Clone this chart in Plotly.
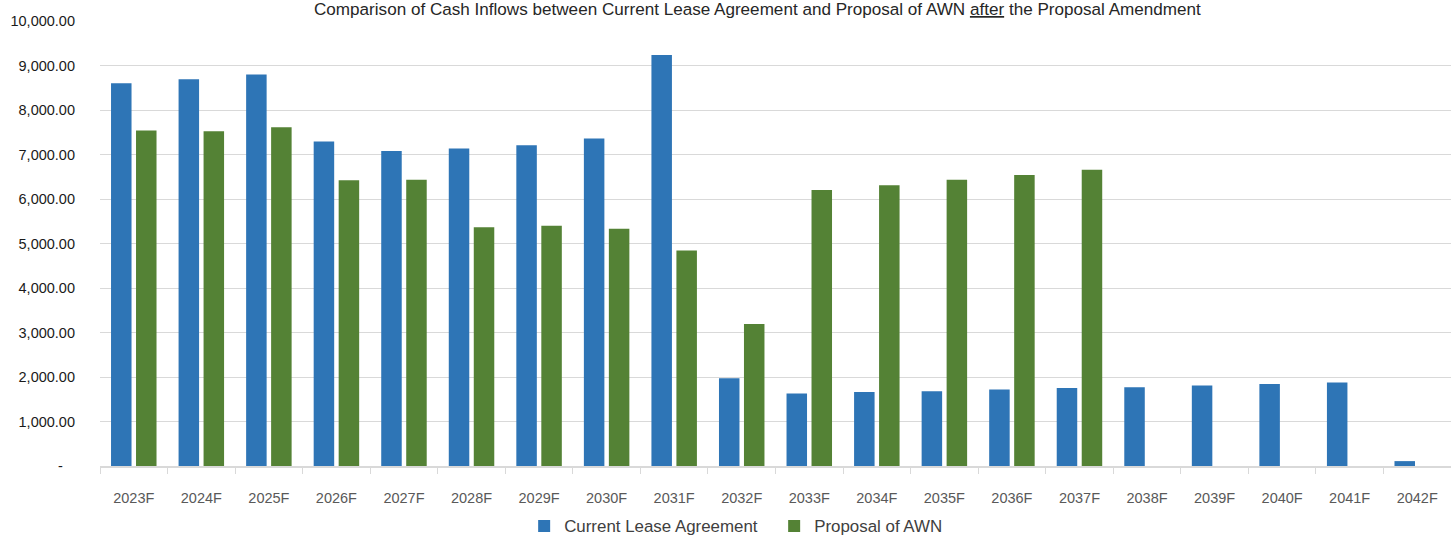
import plotly.graph_objects as go

years = ["2023F", "2024F", "2025F", "2026F", "2027F", "2028F", "2029F", "2030F",
         "2031F", "2032F", "2033F", "2034F", "2035F", "2036F", "2037F", "2038F",
         "2039F", "2040F", "2041F", "2042F"]

current_lease = [8600, 8690, 8800, 7290, 7080, 7135, 7210, 7360,
                 9235, 1970, 1630, 1665, 1680, 1720, 1755, 1770,
                 1810, 1840, 1875, 110]

proposal_awn = [7540, 7520, 7610, 6420, 6435, 5365, 5400, 5330,
                4840, 3190, 6205, 6310, 6435, 6540, 6660, None,
                None, None, None, None]

y_ticks = list(range(0, 10001, 1000))
y_tick_text = ["-\u00a0\u00a0\u00a0"] + [f"{v:,.2f}" for v in y_ticks[1:]]

FONT = "Liberation Sans, Arial, sans-serif"

fig = go.Figure()
fig.add_trace(go.Bar(name="Current Lease Agreement", x=years, y=current_lease,
                     marker=dict(color="#2E75B6", line=dict(width=0))))
fig.add_trace(go.Bar(name="Proposal of AWN", x=years, y=proposal_awn,
                     marker=dict(color="#548235", line=dict(width=0))))

fig.update_layout(
    width=1451, height=535,
    margin=dict(l=100, r=0, t=21, b=69, autoexpand=False),
    paper_bgcolor="white", plot_bgcolor="white",
    barmode="group", bargap=0.26, bargroupgap=0.18,
    font=dict(family=FONT, color="#404040"),
    showlegend=True,
    legend=dict(orientation="h", x=0.499, xanchor="center",
                yref="container", y=0.017, yanchor="middle",
                entrywidth=205,
                font=dict(size=16.9, color="#404040"), traceorder="normal"),
    annotations=[dict(
        text="Comparison of Cash Inflows between Current Lease Agreement and Proposal of AWN <u>after</u> the Proposal Amendment",
        xref="paper", yref="paper", x=0.487, y=1.026, xanchor="center", yanchor="middle",
        showarrow=False, font=dict(size=17.1, color="#262626", family=FONT))],
)

fig.update_xaxes(
    type="category", showgrid=False, showline=True, linecolor="#D9D9D9", linewidth=1.5,
    ticks="outside", tickson="boundaries", ticklen=6, tickcolor="#D9D9D9",
    tickfont=dict(size=14.5, color="#595959"), ticklabelstandoff=18,
)
fig.update_yaxes(
    range=[0, 10000], tickvals=y_ticks, ticktext=y_tick_text,
    showgrid=True, gridcolor="#D9D9D9", gridwidth=1, zeroline=False,
    showline=False, ticks="", tickfont=dict(size=14.5, color="#1A1A1A"),
    ticklabelstandoff=24,
)

fig.write_html("out.html")
